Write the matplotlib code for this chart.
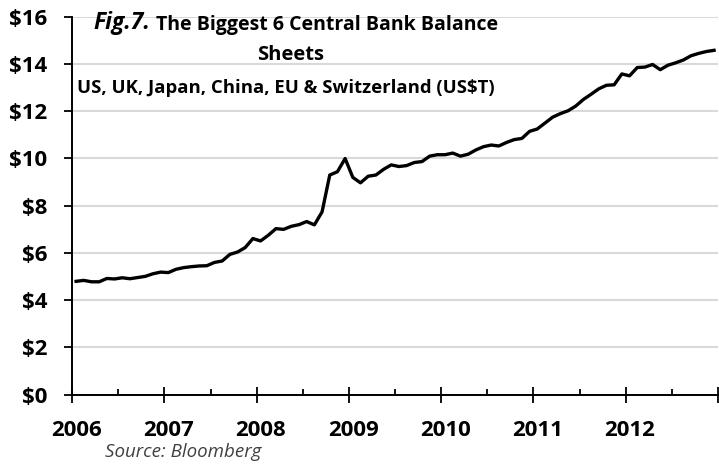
import matplotlib
matplotlib.use("Agg")
import matplotlib.pyplot as plt
from matplotlib.transforms import ScaledTranslation
import numpy as np

# monthly balance sheet total, Jan 2006 .. Dec 2012 (US$ trillion)
balance = [
    4.80, 4.84, 4.78, 4.78, 4.92, 4.90, 4.95, 4.91, 4.96, 5.01, 5.12, 5.19,
    5.17, 5.31, 5.38, 5.42, 5.45, 5.46, 5.60, 5.66, 5.94, 6.04, 6.23, 6.61,
    6.51, 6.75, 7.03, 7.00, 7.13, 7.20, 7.33, 7.19, 7.74, 9.30, 9.44, 10.00,
    9.20, 8.97, 9.25, 9.30, 9.54, 9.73, 9.66, 9.70, 9.83, 9.87, 10.10, 10.16,
    10.16, 10.23, 10.10, 10.18, 10.36, 10.50, 10.57, 10.53, 10.68, 10.80, 10.85, 11.15,
    11.25, 11.50, 11.75, 11.90, 12.02, 12.22, 12.50, 12.72, 12.95, 13.10, 13.12, 13.58,
    13.50, 13.85, 13.87, 13.98, 13.76, 13.95, 14.05, 14.17, 14.35, 14.45, 14.53, 14.58,
]
start_year = 2006
years = [2006, 2007, 2008, 2009, 2010, 2011, 2012]
y_ticks = [0, 2, 4, 6, 8, 10, 12, 14, 16]

months = np.arange(len(balance))
x = start_year + (months + 0.5) / 12.0

plt.rcParams['font.family'] = ['Open Sans', 'DejaVu Sans']

fig = plt.figure(figsize=(7.19, 4.66), dpi=100)
ax = fig.add_axes([0.1005, 0.153, 0.898, 0.811])

ax.plot(x, balance, color='black', lw=2.4, solid_joinstyle='round', zorder=3)

ax.set_xlim(2006, 2013)
ax.set_ylim(0, 16)
ax.set_yticks(y_ticks)
ax.set_yticklabels(['$%d' % v for v in y_ticks], fontsize=16, fontweight='bold')
ax.set_xticks(list(range(2006, 2014)))
ax.set_xticklabels([str(y) for y in years] + [''], fontsize=16, fontweight='bold')
ax.set_xticks(np.arange(2006.5, 2013, 1.0), minor=True)
ax.tick_params(axis='x', which='major', direction='inout', length=12, width=1.3, pad=12)
ax.tick_params(axis='x', which='minor', direction='in', length=4.5, width=1.3)
ax.tick_params(axis='y', which='major', direction='out', length=6, width=1.3, pad=12)
# Excel puts the year labels a little to the right of the tick
for lab in ax.get_xticklabels():
    lab.set_transform(lab.get_transform() + ScaledTranslation(3 / 72, 0, fig.dpi_scale_trans))

ax.grid(axis='y', color='#d9d9d9', lw=1.5, zorder=0)
ax.set_axisbelow(True)
for s in ['top', 'right']:
    ax.spines[s].set_visible(False)
for s in ['left', 'bottom']:
    ax.spines[s].set_linewidth(1.4)

# title block
t1 = fig.text(156 / 719, 0.9356, 'The Biggest 6 Central Bank Balance', fontsize=14,
              fontweight='bold', ha='left', va='baseline')
ax.annotate('Fig.7.', xy=(0, 0), xycoords=t1, xytext=(-4, 0), textcoords='offset points',
            ha='right', va='bottom', fontsize=16.5, fontweight='bold', style='italic')
fig.text(0.404, 0.8712, 'Sheets', fontsize=14.5, fontweight='bold',
         ha='center', va='baseline')
fig.text(0.107, 0.801, 'US, UK, Japan, China, EU & Switzerland (US$T)', fontsize=13.3,
         fontweight='bold', ha='left', va='baseline')

fig.text(0.146, 0.0187, 'Source: Bloomberg', fontsize=13.5, style='italic',
         color='#404040', ha='left', va='baseline')

fig.savefig('out.png', dpi=100)
